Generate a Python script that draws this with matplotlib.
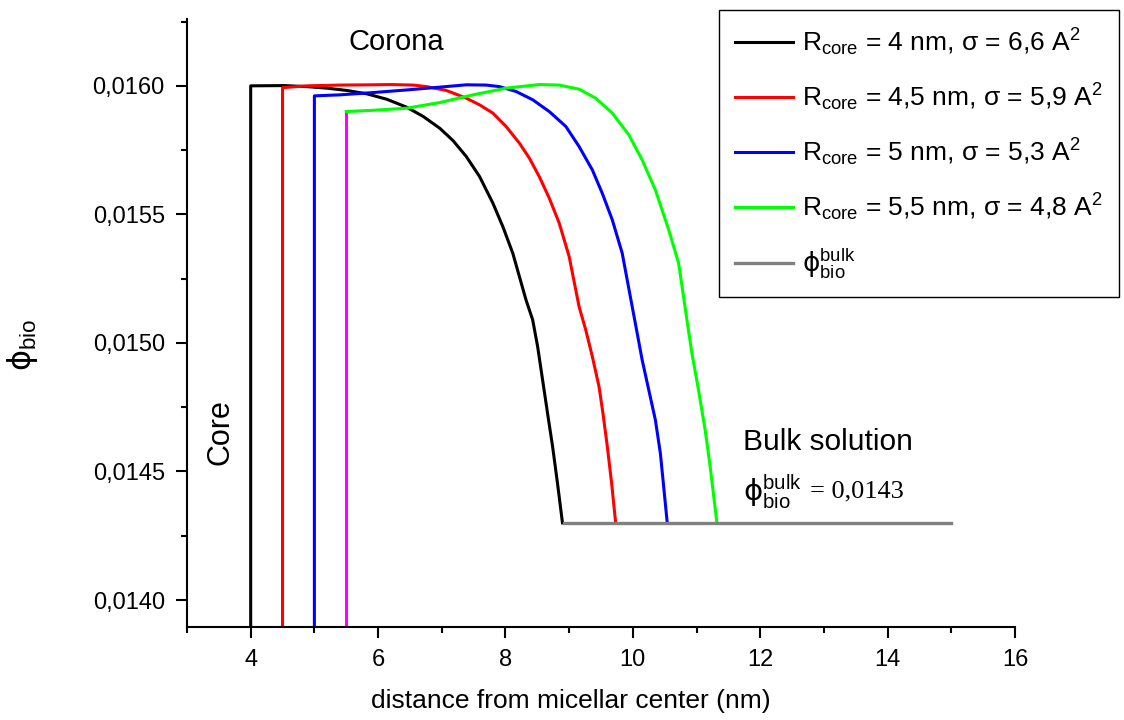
import matplotlib
matplotlib.use("Agg")
import matplotlib.pyplot as plt
from matplotlib.ticker import MultipleLocator, FuncFormatter

plt.rcParams["font.family"] = ["Liberation Sans", "DejaVu Sans"]
plt.rcParams["mathtext.fontset"] = "custom"
plt.rcParams["mathtext.rm"] = "Liberation Sans"
plt.rcParams["mathtext.it"] = "Liberation Sans:italic"
plt.rcParams["mathtext.bf"] = "Liberation Sans:bold"
plt.rcParams["mathtext.sf"] = "DejaVu Sans"
plt.rcParams["mathtext.fallback"] = "stixsans"

# volume fraction profiles, phi_bio vs distance from micelle center (nm)
black_x = [4.0, 4.0, 4.52, 4.885, 5.198, 5.51, 5.823, 6.135, 6.448, 6.708, 6.969, 7.177,
           7.385, 7.594, 7.802, 7.958, 8.115, 8.219, 8.323, 8.427, 8.505, 8.583, 8.661,
           8.74, 8.817, 8.895]
black_y = [0.0138, 0.01600, 0.016001, 0.015997, 0.015991, 0.015982, 0.015969, 0.015948,
           0.015917, 0.015881, 0.015835, 0.015787, 0.015725, 0.015647, 0.015544, 0.015453,
           0.015349, 0.015258, 0.015167, 0.01509, 0.014986, 0.014856, 0.014726, 0.014597,
           0.014454, 0.0143]

red_x = [4.5, 4.5, 4.885, 5.406, 5.927, 6.188, 6.552, 6.76, 7.073, 7.385, 7.594, 7.802,
         8.01, 8.219, 8.375, 8.531, 8.688, 8.844, 9.0, 9.156, 9.26, 9.364, 9.469, 9.531,
         9.599, 9.667, 9.73]
red_y = [0.0138, 0.015993, 0.0160, 0.016003, 0.016004, 0.016005, 0.016003, 0.015997,
         0.015982, 0.015952, 0.015926, 0.015894, 0.015842, 0.015777, 0.015719, 0.015647,
         0.015563, 0.015466, 0.015336, 0.015141, 0.015051, 0.014947, 0.01483, 0.014726,
         0.014597, 0.014454, 0.0143]

blue_x = [5.0, 5.0, 5.406, 5.927, 6.448, 6.969, 7.385, 7.698, 7.906, 8.167, 8.427, 8.688,
          8.948, 9.156, 9.364, 9.52, 9.677, 9.833, 9.99, 10.068, 10.146, 10.25, 10.354,
          10.432, 10.484, 10.54]
blue_y = [0.0138, 0.015961, 0.015965, 0.015974, 0.015984, 0.015995, 0.016004, 0.016003,
          0.015997, 0.015978, 0.015946, 0.0159, 0.015842, 0.015764, 0.015673, 0.015582,
          0.015479, 0.015349, 0.015141, 0.015038, 0.014934, 0.014817, 0.0147, 0.014571,
          0.014441, 0.0143]

core_edge_x = [5.5, 5.5]
core_edge_y = [0.0138, 0.0159]

green_x = [5.5, 5.927, 6.448, 6.969, 7.49, 8.01, 8.531, 8.844, 9.156, 9.417, 9.677, 9.938,
           10.146, 10.354, 10.563, 10.719, 10.849, 10.927, 11.031, 11.135, 11.214, 11.32]
green_y = [0.0159, 0.015905, 0.015913, 0.015935, 0.015965, 0.015991, 0.016005, 0.016003,
           0.015987, 0.015952, 0.015894, 0.015809, 0.015712, 0.015595, 0.01544, 0.01531,
           0.01509, 0.01496, 0.014817, 0.014662, 0.014519, 0.0143]

bulk_value = 0.0143
bulk_x = [8.92, 15.0]
bulk_y = [bulk_value, bulk_value]

labels = [
    r"R$_{\rm core}$ = 4 nm, σ = 6,6 A$^2$",
    r"R$_{\rm core}$ = 4,5 nm, σ = 5,9 A$^2$",
    r"R$_{\rm core}$ = 5 nm, σ = 5,3 A$^2$",
    r"R$_{\rm core}$ = 5,5 nm, σ = 4,8 A$^2$",
    r"$\mathsf{\phi}_{\rm bio}^{\rm bulk}$",
]

fig = plt.figure(figsize=(11.24, 7.2), dpi=100)
ax = fig.add_axes([187 / 1124, 1 - 627 / 720, 828 / 1124, 608 / 720])

lw = 2.2
l1, = ax.plot(black_x, black_y, color="black", lw=lw)
l2, = ax.plot(red_x, red_y, color="#ff0000", lw=lw)
l3, = ax.plot(blue_x, blue_y, color="#0000ff", lw=lw)
ax.plot(core_edge_x, core_edge_y, color="#ff00ff", lw=lw)
l4, = ax.plot(green_x, green_y, color="#00ff00", lw=lw)
l5, = ax.plot(bulk_x, bulk_y, color="#808080", lw=2.4)

ax.set_xlim(3, 16)
ax.set_ylim(0.013895, 0.01626)

ax.spines["top"].set_visible(False)
ax.spines["right"].set_visible(False)
for s in ("left", "bottom"):
    ax.spines[s].set_linewidth(1.5)

ax.xaxis.set_major_locator(MultipleLocator(2))
ax.xaxis.set_minor_locator(MultipleLocator(1))
ax.yaxis.set_major_locator(MultipleLocator(0.0005))
ax.yaxis.set_minor_locator(MultipleLocator(0.00025))
ax.xaxis.set_major_formatter(FuncFormatter(lambda v, p: f"{v:.0f}"))
ax.yaxis.set_major_formatter(FuncFormatter(lambda v, p: f"{v:.4f}".replace(".", ",")))

ax.tick_params(which="major", direction="out", length=8, width=1.5, labelsize=17, pad=8)
ax.tick_params(which="minor", direction="out", length=4.5, width=1.5)

ax.set_xlabel("distance from micellar center (nm)", fontsize=19, labelpad=13)
ax.xaxis.label.set_x(0.4638)
ax.set_ylabel(r"$\mathsf{\phi}_{\rm bio}$", fontsize=23)
ax.yaxis.set_label_coords(-0.177, 0.464)

ax.text(6.28, 0.016171, "Corona", fontsize=21, ha="center", va="center")
ax.text(3.53, 0.014654, "Core", fontsize=22, ha="center", va="center", rotation=90)
ax.text(11.73, 0.014584, "Bulk solution", fontsize=21.5, ha="left", va="baseline")
ax.text(11.73, 0.014385, r"$\mathsf{\phi}_{\rm bio}^{\rm bulk}$", fontsize=21,
        ha="left", va="baseline")
ax.text(12.78, 0.014397, "= 0,0143", fontsize=19, ha="left", va="baseline",
        family="Liberation Serif")

# legend box sits partly outside the axes, to the upper right
leg = ax.legend([l1, l2, l3, l4, l5], labels, loc="upper left",
                bbox_to_anchor=(719 / 1124, 1 - 10 / 720), bbox_transform=fig.transFigure,
                borderaxespad=0, fancybox=False, framealpha=1, edgecolor="black",
                fontsize=19, handlelength=2.2, handletextpad=0.32, labelspacing=0.9,
                borderpad=0.62)
leg.get_frame().set_linewidth(1.0)

fig.savefig("out.png", dpi=100)
